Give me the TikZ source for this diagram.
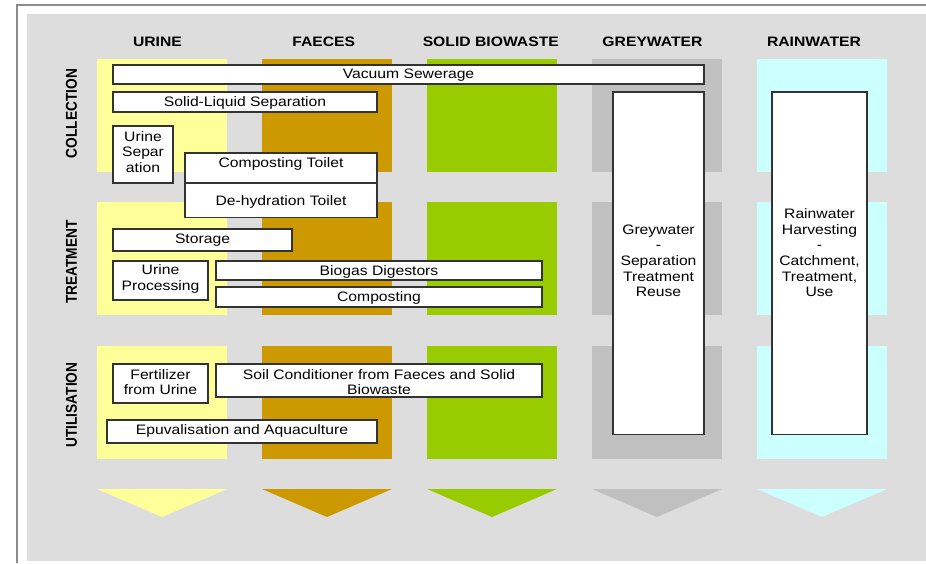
\documentclass[tikz,border=0pt]{standalone}
\usepackage{fontspec}
\newfontfamily\boxfont{Liberation Sans}[FakeStretch=1.146]
\newfontfamily\rowfont{Liberation Sans}[FakeStretch=0.873]
\definecolor{framegray}{HTML}{8C8C8C}
\definecolor{bggray}{HTML}{DDDDDD}
\definecolor{urine}{HTML}{FFFF99}
\definecolor{faeces}{HTML}{CC9900}
\definecolor{biowaste}{HTML}{99CC00}
\definecolor{greyw}{HTML}{C0C0C0}
\definecolor{rainw}{HTML}{CCFFFF}
\tikzset{
  box/.style={draw=black!80,fill=white,line width=1.1pt},
  txt/.style={inner sep=0pt,align=center,font=\boxfont\fontsize{13.7}{15.6}\selectfont},
  head/.style={inner sep=0pt,font=\boxfont\bfseries\fontsize{13.7}{15.6}\selectfont},
  rowlab/.style={inner sep=0pt,rotate=90,font=\rowfont\bfseries\fontsize{15.7}{17}\selectfont},
}
\begin{document}
\begin{tikzpicture}[x=1pt,y=-1pt]
\useasboundingbox (0,0) rectangle (926,563);
\fill[white] (0,0) rectangle (926,563);
\draw[framegray,line width=2pt] (16.7,563)--(16.7,5)--(926,5);
\fill[bggray] (27,14) rectangle (926,561);
%
\foreach \x/\c in {97/urine,262/faeces,427/biowaste,592/greyw,757/rainw}{
  \foreach \y in {59,202,346}
    \fill[\c] (\x,\y) rectangle ++(130,113);
  \fill[\c] (\x,489)--++(130,0)--++(-65,28)--cycle;
}
%
\node[head] (hurine) at (157.5,42.2) {URINE};
\node[head] (hfaeces) at (323.7,42.2) {FAECES};
\node[head] (hbio) at (490.8,42.2) {SOLID BIOWASTE};
\node[head] (hgrey) at (652.5,42.2) {GREYWATER};
\node[head] (hrain) at (814,42.2) {RAINWATER};
\node[rowlab] (collection) at (71.5,113.5) {COLLECTION};
\node[rowlab] (treatment) at (71.5,262) {TREATMENT};
\node[rowlab] (utilisation) at (71.5,405) {UTILISATION};
%
\draw[box] (113,65) rectangle (704,84);
\node[txt] (vacuum) at (408.5,75.5) {Vacuum Sewerage};
\draw[box] (113,92) rectangle (377,112);
\node[txt] (solidliquid) at (245,103) {Solid-Liquid Separation};
\draw[box] (113,126) rectangle (173,183);
\node[txt] (urinesep) at (143,152) {Urine\\Separ\\ation};
\draw[box] (185,153) rectangle (377,183);
\node[txt] (comptoilet) at (281,164.2) {Composting Toilet};
\draw[box] (185,183) rectangle (377,217.5);
\node[txt] (dehydration) at (281,201.5) {De-hydration Toilet};
%
\draw[box] (113,229) rectangle (292,251);
\node[txt] (storage) at (202.5,240) {Storage};
\draw[box] (113,261) rectangle (208,300);
\node[txt] (urineproc) at (160.5,279) {Urine\\Processing};
\draw[box] (216,261) rectangle (542,280);
\node[txt] (biogas) at (379,271.5) {Biogas Digestors};
\draw[box] (216,287) rectangle (542,307);
\node[txt] (composting) at (379,298.2) {Composting};
%
\draw[box] (113,364) rectangle (208,403);
\node[txt] (fertilizer) at (160.5,382) {Fertilizer\\from Urine};
\draw[box] (216,364) rectangle (542,397);
\node[txt] (soil) at (379,382) {Soil Conditioner from Faeces and Solid\\Biowaste};
\draw[box] (107,420) rectangle (377,443);
\node[txt] (epuval) at (242,431) {Epuvalisation and Aquaculture};
%
\draw[box] (613,92) rectangle (704,434.5);
\node[txt] (greybox) at (658.5,260.8) {Greywater\\-\\Separation\\Treatment\\Reuse};
\draw[box] (772,92) rectangle (867,434.5);
\node[txt] (rainbox) at (819.5,252.8) {Rainwater\\Harvesting\\-\\Catchment,\\Treatment,\\Use};
\end{tikzpicture}
\end{document}
